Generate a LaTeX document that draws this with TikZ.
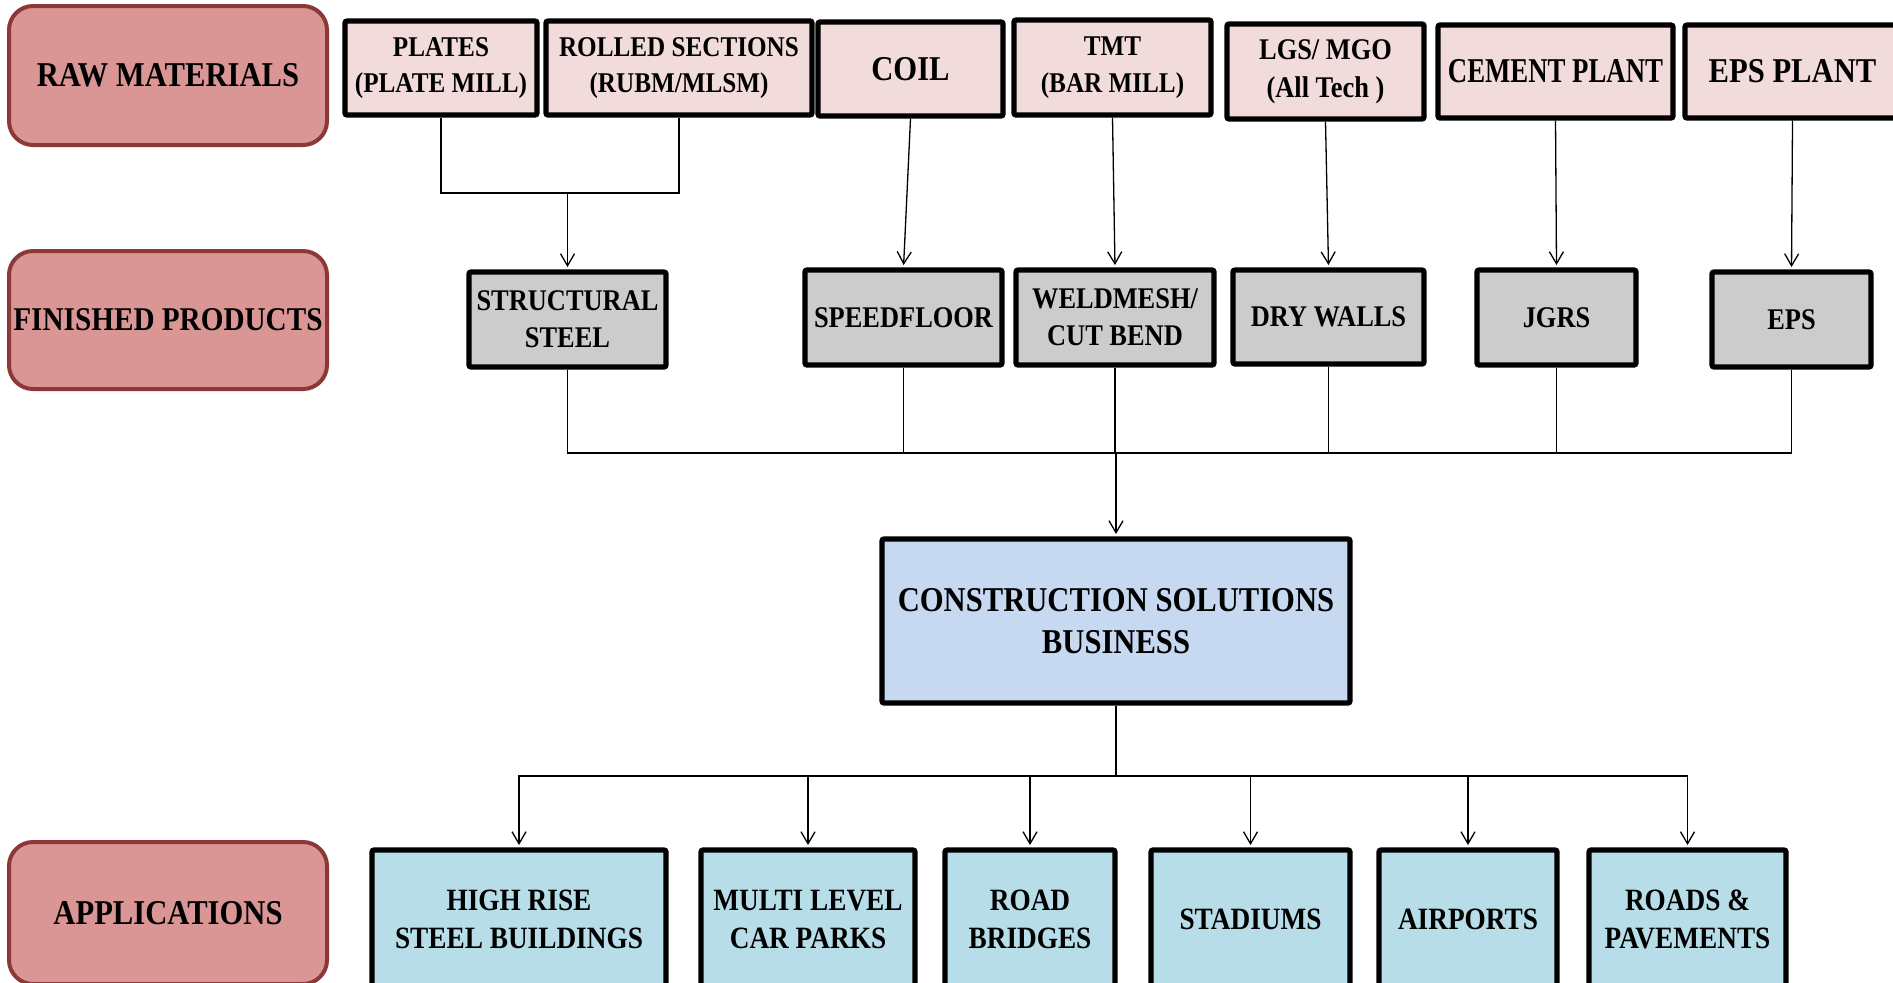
\documentclass[tikz,border=0pt]{standalone}
\usepackage{fontspec}
\setmainfont{Liberation Serif}
\newfontfamily\dfont[FakeStretch=0.88]{Liberation Serif}
\newfontfamily\cfont[FakeStretch=0.77]{Liberation Serif}
\usetikzlibrary{arrows.meta}
\definecolor{labfill}{HTML}{DA9694}
\definecolor{labedge}{HTML}{8C3836}
\definecolor{rawfill}{HTML}{F2DCDB}
\definecolor{finfill}{HTML}{CCCCCC}
\definecolor{csbfill}{HTML}{C6D9F1}
\definecolor{appfill}{HTML}{B7DDE8}
% \bx{style}{name}{x1}{y1}{x2}{y2}{text}  (pixel corners, y downward)
\newcommand\bx[7]{\node[#1, minimum width={(#5-#3)*0.5pt}, minimum height={(#6-#4)*0.5pt}] (#2) at ({(#3+#5)/2},{(#4+#6)/2}) {#7};}
\begin{document}
\begin{tikzpicture}[x=0.5pt,y=-0.5pt,
  labbox/.style={draw=labedge, fill=labfill, line width=2pt, rounded corners=12pt, inner sep=0pt, align=center,
    font=\dfont\bfseries\fontsize{17.4}{21}\selectfont},
  boxbase/.style={draw=black, line width=2.6pt, rounded corners=1pt, inner sep=0pt, align=center},
  rawbox/.style={boxbase, fill=rawfill, font=\dfont\bfseries\fontsize{14.3}{18.3}\selectfont},
  rawbig/.style={boxbase, fill=rawfill, font=\dfont\bfseries\fontsize{17.4}{20}\selectfont},
  finbox/.style={boxbase, fill=finfill, font=\dfont\bfseries\fontsize{15}{18.5}\selectfont},
  csbbox/.style={boxbase, fill=csbfill, font=\dfont\bfseries\fontsize{17.4}{21}\selectfont},
  appbox/.style={boxbase, fill=appfill, font=\dfont\bfseries\fontsize{15.5}{19}\selectfont},
  conn/.style={line width=0.65pt},
  arr/.style={conn, -{Straight Barb[length=6pt,width=7pt]}, shorten >=1.2pt}
]
\fill[white] (0,0) rectangle (1893,982);
\useasboundingbox (0,0) rectangle (1893,982);

% row labels
\bx{labbox}{rawlab}{9}{6}{327}{145}{RAW MATERIALS}
\bx{labbox, font=\dfont\bfseries\fontsize{16.6}{21}\selectfont}{finlab}{9}{251}{327}{389}{FINISHED PRODUCTS}
\bx{labbox}{applab}{9}{842}{327}{984}{APPLICATIONS}

% raw materials
\bx{rawbox}{plates}{345}{21}{537}{115}{PLATES\\(PLATE MILL)}
\bx{rawbox}{rolled}{546}{21}{812}{115}{ROLLED SECTIONS\\(RUBM/MLSM)}
\bx{rawbig}{coil}{818}{22}{1003}{116}{COIL}
\bx{rawbox}{tmt}{1014}{20}{1211}{115}{TMT\\(BAR MILL)}
\bx{rawbox, font=\dfont\bfseries\fontsize{15}{19}\selectfont}{lgs}{1227}{24}{1424}{119}{LGS/ MGO\\(All Tech )}
\bx{rawbig, font=\cfont\bfseries\fontsize{17.4}{20}\selectfont}{cement}{1438}{25}{1673}{118}{CEMENT PLANT}
\bx{rawbig}{epsplant}{1685}{25}{1900}{118}{EPS PLANT}

% finished products
\bx{finbox}{struct}{469}{272}{666}{367}{STRUCTURAL\\STEEL}
\bx{finbox}{speed}{805}{270}{1002}{365}{SPEEDFLOOR}
\bx{finbox}{weld}{1016}{270}{1214}{365}{WELDMESH/\\CUT BEND}
\bx{finbox}{dry}{1233}{270}{1424}{364}{DRY WALLS}
\bx{finbox}{jgrs}{1477}{270}{1636}{365}{JGRS}
\bx{finbox}{eps}{1712}{272}{1871}{367}{EPS}

% central
\bx{csbbox}{csb}{882}{539}{1350}{703}{CONSTRUCTION SOLUTIONS\\BUSINESS}

% applications (they run past the lower edge)
\bx{appbox}{high}{372}{850}{666}{988}{HIGH RISE\\STEEL BUILDINGS}
\bx{appbox}{multi}{701}{850}{915}{988}{MULTI LEVEL\\CAR PARKS}
\bx{appbox}{road}{945}{850}{1115}{988}{ROAD\\BRIDGES}
\bx{appbox}{stad}{1151}{850}{1350}{988}{STADIUMS}
\bx{appbox}{air}{1379}{850}{1557}{988}{AIRPORTS}
\bx{appbox}{roads}{1589}{850}{1786}{988}{ROADS \&\\PAVEMENTS}

% junctions
\coordinate (j1) at (struct.north |- 0,193);
\coordinate (j2) at (csb.north |- 0,453);
\coordinate (j3) at (csb.south |- 0,776);

% raw -> finished
\draw[conn] (plates.south) |- (j1);
\draw[conn] (rolled.south) |- (j1);
\draw[arr] (j1) -- (struct.north);
\draw[arr] (coil.south) -- (speed.north);
\draw[arr] (tmt.south) -- (weld.north);
\draw[arr] (lgs.south) -- (dry.north);
\draw[arr] (cement.south) -- (jgrs.north);
\draw[arr] (epsplant.south) -- (eps.north);

% finished -> csb
\foreach \n in {struct,speed,weld,dry,jgrs,eps}
  \draw[conn] (\n.south) |- (j2);
\draw[arr] (j2) -- (csb.north);

% csb -> applications
\draw[conn] (csb.south) -- (j3);
\foreach \n in {high,multi,road,stad,air,roads}
  \draw[arr] (j3) -| (\n.north);
\end{tikzpicture}
\end{document}
